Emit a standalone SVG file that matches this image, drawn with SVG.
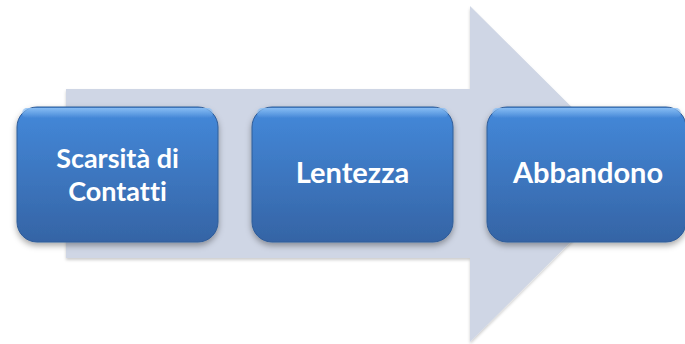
<svg xmlns="http://www.w3.org/2000/svg" width="685" height="344" viewBox="0 0 685 344">
  <defs>
    <linearGradient id="boxFill" x1="0" y1="0" x2="0" y2="1">
      <stop offset="0" stop-color="#4a8fdd"/>
      <stop offset="0.08" stop-color="#4386d6"/>
      <stop offset="1" stop-color="#3564a5"/>
    </linearGradient>
    <linearGradient id="hl" x1="0" y1="0" x2="0" y2="1">
      <stop offset="0" stop-color="#8cc0f5" stop-opacity="0.9"/>
      <stop offset="1" stop-color="#8cc0f5" stop-opacity="0"/>
    </linearGradient>
    <filter id="shadow" x="-10%" y="-10%" width="120%" height="130%">
      <feDropShadow dx="0" dy="3" stdDeviation="3" flood-color="#000" flood-opacity="0.35"/>
    </filter>
    <filter id="ashadow" x="-5%" y="-5%" width="110%" height="115%">
      <feDropShadow dx="0" dy="2" stdDeviation="1.5" flood-color="#000" flood-opacity="0.2"/>
    </filter>
  </defs>
  <style>
    .box { fill: url(#boxFill); stroke: #2f5c98; stroke-width: 1; filter: url(#shadow); }
    .hl { fill: url(#hl); }
    .lbl { font-family: "Lato", "Open Sans", "Liberation Sans", sans-serif; font-weight: bold; font-size: 29px; fill: #ffffff; text-anchor: middle; font-variant-ligatures: none; }
    .two { font-size: 27px; }
  </style>
  <rect width="685" height="344" fill="#ffffff"/>
  <g id="arrow">
    <polygon points="66,89 470,89 470,6 639,174 470,342 470,258 66,258" fill="#cfd6e5" filter="url(#ashadow)"/>
  </g>
  <g id="connectors"></g>
  <g id="node1">
    <rect class="box" x="17" y="107" width="201" height="135" rx="20"/>
    <rect class="hl" x="22" y="108" width="191" height="10" rx="5"/>
    <text class="lbl two" x="117.5" y="168"><tspan x="117.5" y="168">Scarsità di</tspan><tspan x="117.5" y="201">Contatti</tspan></text>
  </g>
  <g id="node2">
    <rect class="box" x="252" y="107" width="201" height="135" rx="20"/>
    <rect class="hl" x="257" y="108" width="191" height="10" rx="5"/>
    <text class="lbl" x="352.5" y="183">Lentezza</text>
  </g>
  <g id="node3">
    <rect class="box" x="487" y="107" width="199" height="135" rx="20"/>
    <rect class="hl" x="492" y="108" width="189" height="10" rx="5"/>
    <text class="lbl" x="588" y="183">Abbandono</text>
  </g>
</svg>
